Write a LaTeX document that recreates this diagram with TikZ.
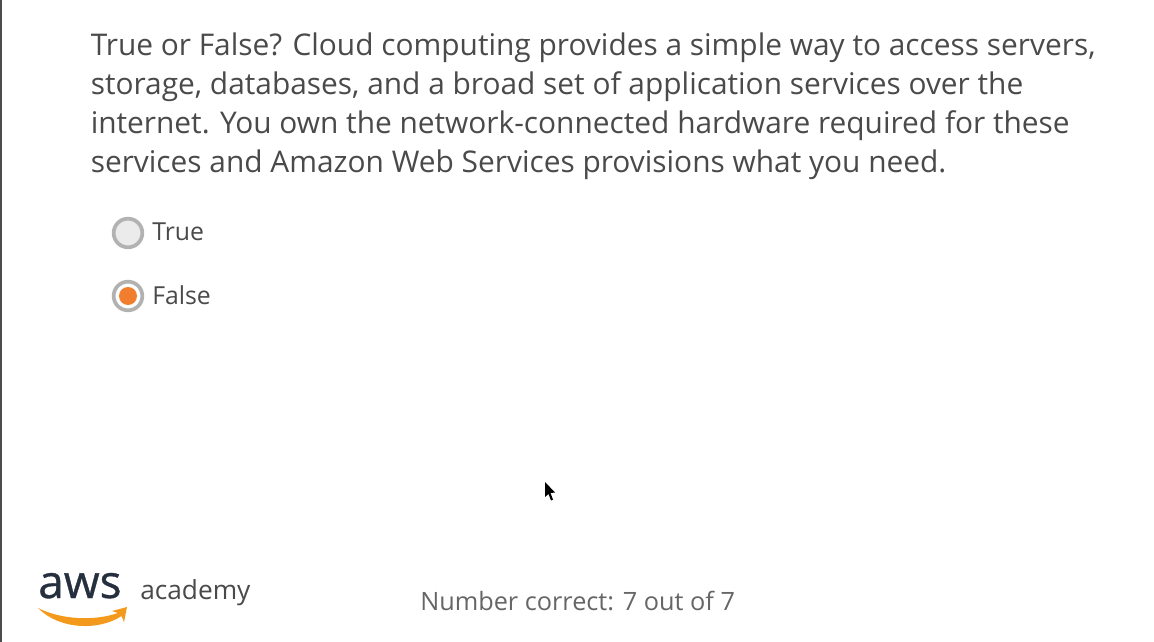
\documentclass[tikz,border=0pt]{standalone}
\usepackage{fontspec}
\setmainfont{Open Sans}
\newfontfamily\awsfont[FakeBold=0.7]{Open Sans}
\definecolor{ink}{HTML}{4A4A4A}
\definecolor{awsink}{HTML}{252F3E}
\definecolor{awsorange}{HTML}{F39A1C}
\definecolor{pick}{HTML}{F07E2E}
\tikzset{
  question/.style={anchor=north west,inner sep=0pt,align=left,text=ink,font=\fontsize{22.4}{29.2}\selectfont},
  choice/.style={anchor=west,inner sep=0pt,text=ink,font=\fontsize{18.6}{23}\selectfont},
  radio/.style={circle,minimum size=21.5pt,inner sep=0pt,draw=black!30,line width=2.8pt},
}
\begin{document}
\begin{tikzpicture}[x=0.75pt,y=-0.75pt]
\useasboundingbox (0,0) rectangle (1154,642);
\fill[white] (0,0) rectangle (1154,642);
%% Left edge of the window
\fill[black!70] (0,0) rectangle (2,642);

%% Question
\node[question] (quest) at (90.5,33) {True or False? Cloud computing provides a simple way to access servers,\\
storage, databases, and a broad set of application services over the\\
internet. You own the network-connected hardware required for these\\
services and Amazon Web Services provisions what you need.};

%% Answers
\node[radio,fill=black!8] (radioT) at (128,233) {};
\node[choice] (labelT) at (152,232) {True};
\node[radio,fill=white] (radioF) at (128,296) {};
\fill[pick] (radioF) circle[radius=9];
\node[choice] (labelF) at (152,295) {False};

%% Pointer
\fill[black] (545,482) -- (545,497) -- (548.5,494) -- (551,500.5) -- (553,499.5) -- (550.5,493) -- (555,492.5) -- cycle;

%% Logo
\node[anchor=base west,inner sep=0pt,text=awsink,font=\fontsize{34.5}{34.5}\awsfont] (aws) at (38,598) {aws};
\node[anchor=base west,inner sep=0pt,text=ink,font=\fontsize{19.7}{23}\selectfont] (academy) at (140,599) {academy};
\fill[awsorange] (38,608) .. controls (62,620) and (95,621) .. (118,613)
  -- (112,611) -- (127,607) -- (124,622) -- (121.5,616)
  .. controls (100,630.5) and (60,630.5) .. (38,608) -- cycle;

%% Score
\node[anchor=base west,inner sep=0pt,text=black!60,font=\fontsize{18.95}{23}\selectfont] (score) at (420,610) {Number correct: 7 out of 7};
\end{tikzpicture}
\end{document}
